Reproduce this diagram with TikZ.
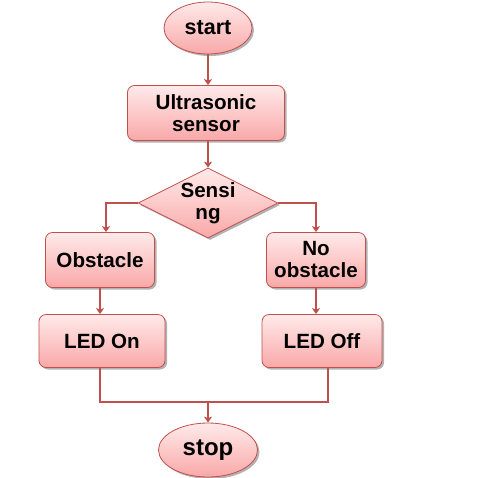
\documentclass[tikz,border=0pt]{standalone}
\usepackage{fontspec}
\setmainfont{Liberation Sans}
\usetikzlibrary{shapes.geometric,shadows,arrows.meta}
\definecolor{flowedge}{RGB}{192,80,77}
\definecolor{flowtop}{RGB}{255,234,234}
\definecolor{flowbot}{RGB}{249,168,168}
\tikzset{
  flowbase/.style={draw=flowedge, line width=0.8pt, top color=flowtop, bottom color=flowbot,
    font=\fontsize{20.6}{22}\selectfont\bfseries, align=center, inner sep=0pt,
    drop shadow={shadow xshift=2pt, shadow yshift=-2pt, opacity=0.3, fill=black}},
  terminal/.style={flowbase, ellipse},
  process/.style={flowbase, rectangle, rounded corners=7pt},
  decision/.style={flowbase, diamond, aspect=2},
  joinline/.style={draw=flowedge, line width=1.6pt},
  flowarrow/.style={joinline, -{Stealth[length=6pt,width=8pt,inset=1.5pt]}}
}
\begin{document}
\begin{tikzpicture}[x=1pt,y=-1pt]
        \useasboundingbox (0,0) rectangle (502,477);
        \node[terminal, minimum width=88pt, minimum height=52pt, font=\fontsize{21.5}{22}\selectfont\bfseries] (start) at (208,28) {start};
        \node[process, minimum width=157pt, minimum height=55pt] (sensor) at (206,113) {Ultrasonic\\sensor};
        \node[decision, minimum width=140pt, minimum height=70pt] (sensing) at (208,203) {Sensi\\ng};
        \node[process, minimum width=109pt, minimum height=55pt] (obst) at (100,260) {Obstacle};
        \node[process, minimum width=99pt, minimum height=55pt] (noobst) at (316,260) {No\\obstacle};
        \node[process, minimum width=126pt, minimum height=53pt] (ledon) at (102,341) {LED On};
        \node[process, minimum width=120pt, minimum height=53pt] (ledoff) at (322,341) {LED Off};
        \node[terminal, minimum width=99pt, minimum height=54pt, font=\fontsize{24}{24}\selectfont\bfseries] (stop) at (208,450) {stop};
        \coordinate (join) at (208,402);
        \draw[flowarrow] (start.south) -- (start.south |- sensor.north);
        \draw[flowarrow] (sensor.south -| sensing.north) -- (sensing.north);
        \draw[flowarrow] (sensing.west) -| ([xshift=6pt]obst.north);
        \draw[flowarrow] (sensing.east) -| (noobst.north);
        \draw[flowarrow] (obst.south) -- (obst.south |- ledon.north);
        \draw[flowarrow] (noobst.south) -- (noobst.south |- ledoff.north);
        \draw[joinline] ([xshift=-2pt]ledon.south) |- (join) -| ([xshift=6pt]ledoff.south);
        \draw[flowarrow] (join) -- (stop.north);
      \end{tikzpicture}
\end{document}
